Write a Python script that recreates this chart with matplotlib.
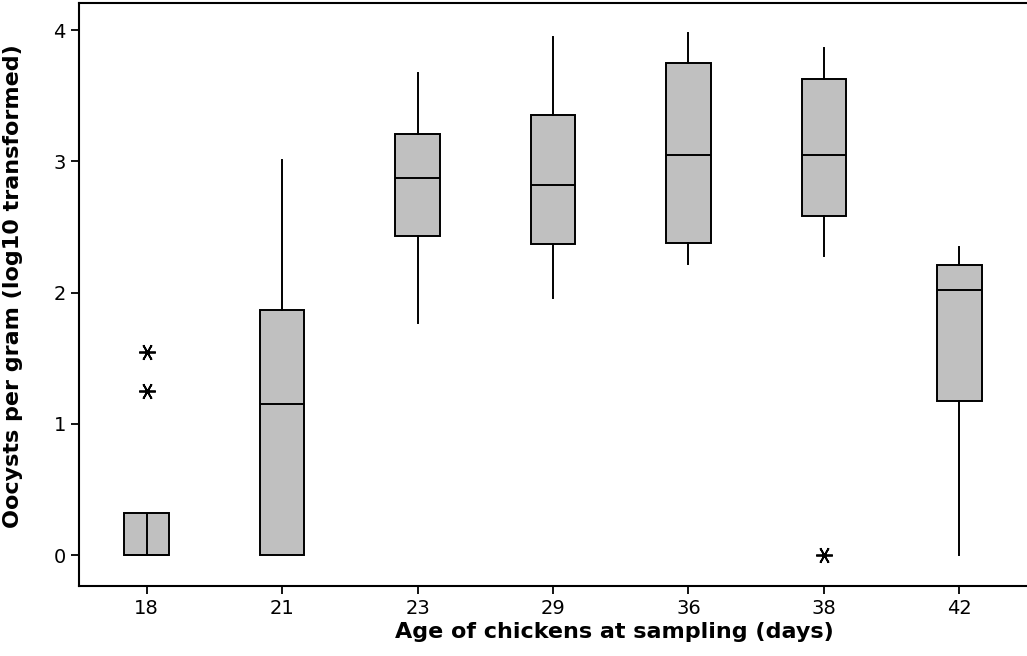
import matplotlib
matplotlib.use('Agg')
import matplotlib.pyplot as plt

# data (log10 oocysts per gram)
ages = ["18", "21", "23", "29", "36", "38", "42"]
q1 = [0.00, 0.00, 2.43, 2.37, 2.38, 2.58, 1.17]
medians = [0.00, 1.15, 2.87, 2.82, 3.05, 3.05, 2.02]
q3 = [0.32, 1.87, 3.21, 3.35, 3.75, 3.63, 2.21]
whisker_low = [0.00, 0.00, 1.77, 1.96, 2.22, 2.28, 0.00]
whisker_high = [0.32, 3.01, 3.67, 3.95, 3.98, 3.86, 2.35]
outliers = [[1.25, 1.55], [], [], [], [], [0.00], []]

plt.rcParams['font.family'] = ['DejaVu Sans']

fig = plt.figure(figsize=(10.27, 6.56), dpi=100)
ax = fig.add_axes([0.0769, 0.1067, 0.9231, 0.8887])

stats = []
for i, age in enumerate(ages):
    stats.append(dict(label=age, q1=q1[i], med=medians[i], q3=q3[i],
                      whislo=whisker_low[i], whishi=whisker_high[i],
                      fliers=outliers[i]))

positions = list(range(1, len(ages) + 1))
ax.bxp(stats, positions=positions, widths=0.33, patch_artist=True,
       showcaps=False,
       boxprops=dict(facecolor="#c0c0c0", edgecolor="black", linewidth=1.4),
       medianprops=dict(color="black", linewidth=1.4),
       whiskerprops=dict(color="black", linewidth=1.4),
       flierprops=dict(marker=(6, 2, 90), markersize=12, markeredgecolor="black",
                       markeredgewidth=1.3, linestyle="none"))

# box with zero median: Minitab draws the median as a vertical line
for p, lo, hi, m in zip(positions, q1, q3, medians):
    if m == lo:
        ax.vlines(p, lo, hi, color="black", linewidth=1.4)

ax.set_xlim(0.5, 7.5)
ax.set_ylim(-0.236, 4.206)
ax.set_yticks([0, 1, 2, 3, 4])
ax.set_xticks(positions)
ax.set_xticklabels(ages)
ax.tick_params(labelsize=14, length=6, width=1.3, color="black")
ax.spines["right"].set_visible(False)
for s in ax.spines.values():
    s.set_linewidth(1.5)

ax.set_xlabel("Age of chickens at sampling (days)", fontsize=16,
              fontweight="bold")
ax.set_ylabel("Oocysts per gram (log10 transformed)", fontsize=16,
              fontweight="bold")
ax.xaxis.set_label_coords(0.565, -0.062)
ax.yaxis.set_label_coords(-0.059, 0.515)

fig.savefig("out.png", dpi=100)
